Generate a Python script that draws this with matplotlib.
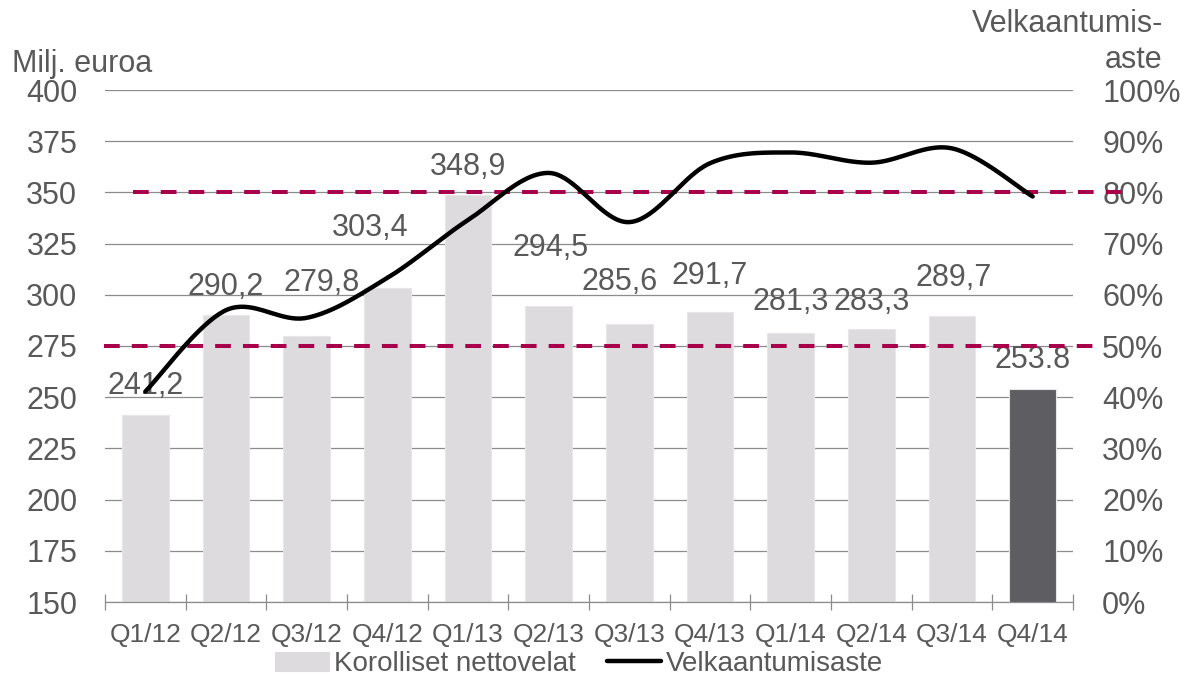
import numpy as np
import matplotlib
matplotlib.use('Agg')
import matplotlib.pyplot as plt

plt.rcParams['font.family'] = ['Liberation Sans', 'DejaVu Sans']

# Data
quarters = ['Q1/12', 'Q2/12', 'Q3/12', 'Q4/12', 'Q1/13', 'Q2/13',
            'Q3/13', 'Q4/13', 'Q1/14', 'Q2/14', 'Q3/14', 'Q4/14']
net_debt = [241.2, 290.2, 279.8, 303.4, 348.9, 294.5,
            285.6, 291.7, 281.3, 283.3, 289.7, 253.8]
net_debt_labels = ['241,2', '290,2', '279,8', '303,4', '348,9', '294,5',
                   '285,6', '291,7', '281,3', '283,3', '289,7', '253.8']
gearing = [41.1, 57.0, 55.5, 63.3, 74.6, 83.8,
           74.2, 85.7, 87.8, 85.8, 88.6, 79.2]
target_levels = [80, 50]

TEXT = '#595959'
BAR_LIGHT = '#DDDBDD'
BAR_DARK = '#5E5D62'
GRID = '#8C8C8C'
DASH = '#A8004A'

# label offsets above bar top (pixels), placed by hand in the original
label_offsets = [(0, 29), (0, 28), (15, 53), (-17, 60), (0, 28), (2, 58),
                 (-10, 42), (0, 36), (0, 31), (0, 27), (2, 38), (0, 29)]


def smooth_curve(x, y, n=40):
    """Excel-like smoothed line through the points (Bezier, Catmull-Rom tangents)."""
    pts = np.column_stack([x, y]).astype(float)
    p = np.vstack([pts[0], pts, pts[-1]])
    t = np.linspace(0, 1, n)[:, None]
    segs = []
    for i in range(1, len(p) - 2):
        p0, p1, p2, p3 = p[i - 1], p[i], p[i + 1], p[i + 2]
        c1 = p1 + (p2 - p0) / 6
        c2 = p2 - (p3 - p1) / 6
        segs.append((1 - t) ** 3 * p1 + 3 * (1 - t) ** 2 * t * c1
                    + 3 * (1 - t) * t ** 2 * c2 + t ** 3 * p2)
    return np.vstack(segs)


fig = plt.figure(figsize=(11.86, 6.78), dpi=100)
ax = fig.add_axes([105 / 1186, 1 - 602 / 678, 968 / 1186, 512 / 678])
ax2 = ax.twinx()

x = np.arange(len(quarters))
colors = [BAR_LIGHT] * (len(quarters) - 1) + [BAR_DARK]
bars = ax.bar(x, net_debt, width=0.58, color=colors, edgecolor='#E8E7E8',
              linewidth=0.8, zorder=2, label='Korolliset nettovelat')

for xi, val, lab, (dx, dy) in zip(x, net_debt, net_debt_labels, label_offsets):
    ax.annotate(lab, (xi, val), xytext=(dx, dy), textcoords='offset pixels',
                ha='center', va='center', fontsize=22, color=TEXT, zorder=3)

ax.set_ylim(150, 400)
ax.set_yticks(np.arange(150, 401, 25))
ax.set_xlim(-0.5, len(quarters) - 0.5)
ax.set_xticks(x)
ax.set_xticklabels(quarters)
ax.set_xticks(np.arange(-0.5, len(quarters), 1), minor=True)
ax.grid(axis='y', color=GRID, linewidth=0.9, zorder=0)
ax.set_axisbelow(True)

ax.tick_params(axis='y', length=0, labelsize=22, labelcolor=TEXT, pad=20)
ax.tick_params(axis='x', which='major', length=0, labelsize=19,
               labelcolor=TEXT, pad=15)
ax.tick_params(axis='x', which='minor', direction='inout', length=12,
               width=0.9, color=GRID)

for side in ['top', 'left', 'right']:
    ax.spines[side].set_visible(False)
    ax2.spines[side].set_visible(False)
ax.spines['bottom'].set_color(GRID)
ax.spines['bottom'].set_linewidth(0.9)
ax2.spines['bottom'].set_visible(False)

# gearing line and target levels on the secondary axis
ax2.set_ylim(0, 100)
ax2.set_yticks(np.arange(0, 101, 10))
ax2.set_yticklabels([f'{v}%' for v in range(0, 101, 10)])
ax2.tick_params(axis='y', length=0, labelsize=22, labelcolor=TEXT, pad=21)

dash_spans = [(-0.15, 12.2), (-0.51, 11.85)]
for level, (x0, x1) in zip(target_levels, dash_spans):
    ax2.plot([x0, x1], [level, level], color=DASH, linewidth=2.9,
             linestyle=(0, (3.9, 3.0)), clip_on=False, zorder=2)

curve = smooth_curve(x, gearing)
line, = ax2.plot(curve[:, 0], curve[:, 1], color='black', linewidth=3.2,
                 solid_capstyle='round', zorder=3, label='Velkaantumisaste')

fig.text(12 / 1186, 1 - 72 / 678, 'Milj. euroa', fontsize=22, color=TEXT,
         ha='left', va='baseline')
fig.text(1163 / 1186, 1 - 32 / 678, 'Velkaantumis-', fontsize=22, color=TEXT,
         ha='right', va='baseline')
fig.text(1162 / 1186, 1 - 68 / 678, 'aste', fontsize=22, color=TEXT,
         ha='right', va='baseline')

leg = fig.legend([bars[0], line], ['Korolliset nettovelat', 'Velkaantumisaste'],
                 loc='center', bbox_to_anchor=(579 / 1186, 1 - 664 / 678),
                 ncol=2, frameon=False, fontsize=20, handlelength=1.95,
                 handletextpad=0.2, columnspacing=1.1, borderaxespad=0,
                 borderpad=0)
for t in leg.get_texts():
    t.set_color(TEXT)
leg.legend_handles[0].set_facecolor(BAR_LIGHT)
leg.legend_handles[0].set_edgecolor(BAR_LIGHT)

fig.savefig('out.png', dpi=100, facecolor='white')
